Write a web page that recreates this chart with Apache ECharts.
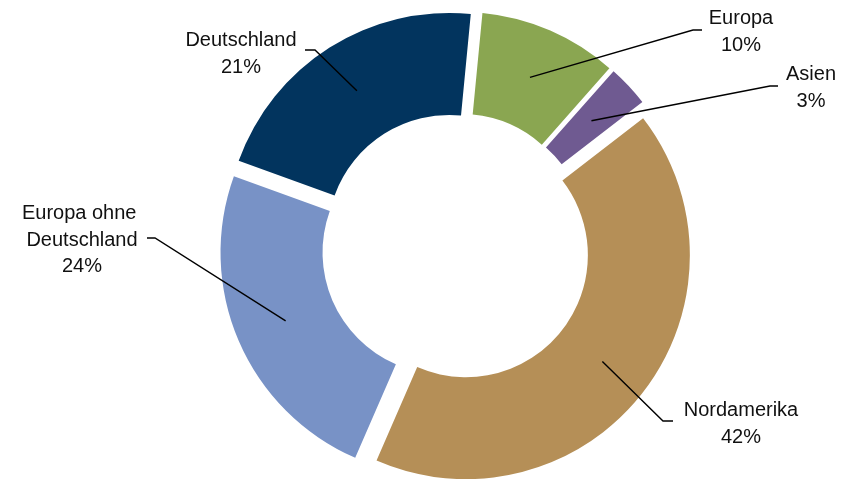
<!DOCTYPE html>
<html>
<head>
<meta charset="utf-8">
<script src="https://cdn.jsdelivr.net/npm/echarts@6/dist/echarts.min.js"></script>
<style>
  html, body { margin: 0; padding: 0; background: #fff; }
  #chart { width: 852px; height: 479px; }
</style>
</head>
<body>
<div id="chart"></div>
<script>
// Daten (Anteile in %)
const regionen = ['Europa', 'Asien', 'Nordamerika', 'Europa ohne Deutschland', 'Deutschland'];
const anteile = [10, 3, 42, 24, 21];
const farben = ['#8aa651', '#6f5a91', '#b58f57', '#7892c6', '#02345e'];

// Geometrie des Rings
const CX = 456, CY = 247.5;
const R_IN = 122, R_OUT = 224;
const OFFSET = 12.5;   // Explosion der Segmente
const DREHUNG = 5.5;   // Winkel des ersten Segments

// Position der Beschriftungen und Knickpunkte der Linien
const labelPos = [[741, 32], [811, 88], [741, 424], [82, 240], [241, 54]];
const knick = [
  [[693, 30], [702, 30]],
  [[770, 86], [778, 86]],
  [[663, 421], [673, 421]],
  [[155, 238], [147, 238]],
  [[315, 50], [305, 50]]
];

const total = anteile.reduce((a, b) => a + b, 0);

// Mittlerer Winkel eines Segments (rad, im Uhrzeigersinn ab 12 Uhr)
function mitte(i) {
  let cum = 0;
  for (let k = 0; k < i; k++) cum += anteile[k];
  return (DREHUNG + (cum + anteile[i] / 2) / total * 360) * Math.PI / 180;
}

function anker(i) {
  const a = mitte(i);
  const r = OFFSET + (R_IN + R_OUT) / 2;
  return [CX + r * Math.sin(a), CY - r * Math.cos(a)];
}

const basis = {
  type: 'pie',
  silent: true,
  radius: [R_IN, R_OUT],
  startAngle: 90 - DREHUNG,
  clockwise: true,
  percentPrecision: 0,
  avoidLabelOverlap: false,
  emphasis: { disabled: true }
};

// Jedes Segment als eigene Serie, Mittelpunkt entlang der Segmentmitte verschoben
const series = regionen.map((_, s) => {
  const a = mitte(s);
  return Object.assign({}, basis, {
    z: 2,
    center: [CX + OFFSET * Math.sin(a), CY - OFFSET * Math.cos(a)],
    label: { show: false },
    labelLine: { show: false },
    data: regionen.map((name, i) => ({
      name: name,
      value: anteile[i],
      itemStyle: { color: i === s ? farben[i] : 'rgba(0,0,0,0)' }
    }))
  });
});

// Beschriftungen mit Führungslinien über den Segmenten
series.push(Object.assign({}, basis, {
  z: 3,
  center: [CX, CY],
  itemStyle: { color: 'rgba(0,0,0,0)' },
  label: {
    show: true,
    position: 'outside',
    formatter: '{b}\n{d}%',
    fontFamily: 'Liberation Sans',
    fontSize: 20,
    lineHeight: 26.5,
    color: '#111',
    align: 'center',
    width: 125,
    overflow: 'break'
  },
  labelLine: {
    show: true,
    lineStyle: { color: '#000', width: 1.4 }
  },
  labelLayout: function (params) {
    const i = params.dataIndex;
    return {
      x: labelPos[i][0],
      y: labelPos[i][1],
      align: 'center',
      verticalAlign: 'middle',
      labelLinePoints: [anker(i), knick[i][0], knick[i][1]]
    };
  },
  data: regionen.map((name, i) => ({ name: name, value: anteile[i] }))
}));

const chart = echarts.init(document.getElementById('chart'));
chart.setOption({ animation: false, series: series });
</script>
</body>
</html>
